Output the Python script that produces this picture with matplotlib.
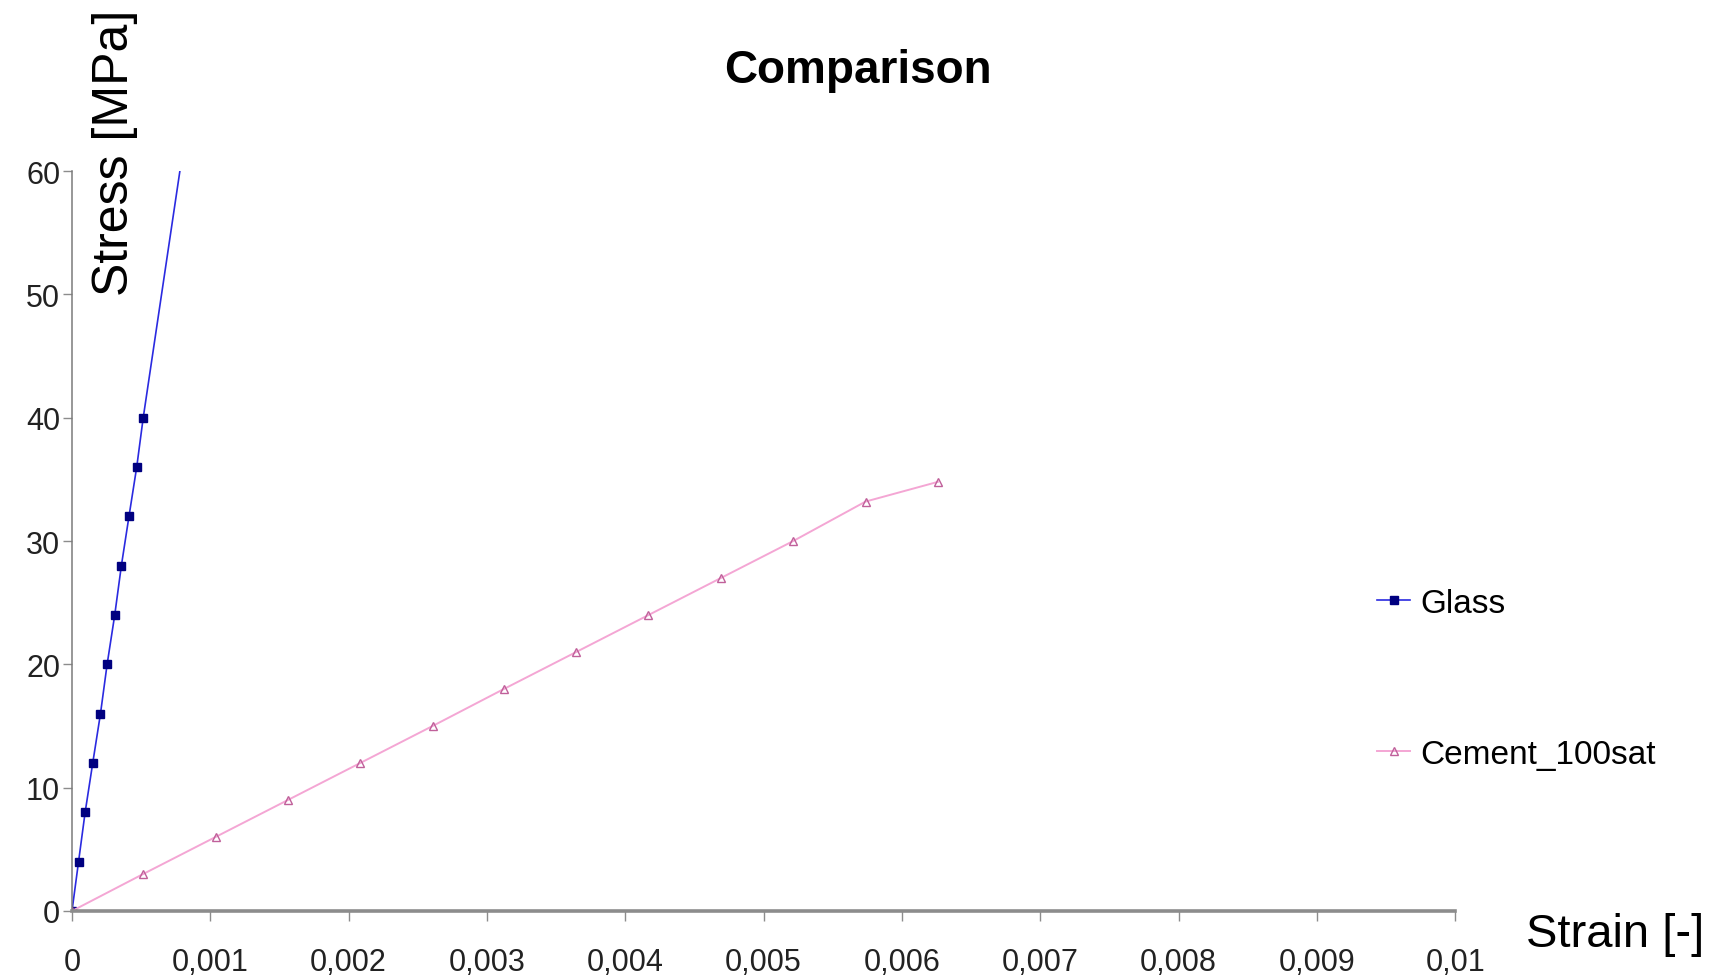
import matplotlib
matplotlib.use('Agg')
import matplotlib.pyplot as plt

# data
glass_strain = [0, 0.0000475, 0.000095, 0.00015, 0.000206, 0.000254, 0.000309,
                0.000357, 0.000412, 0.000468, 0.000515, 0.000784]
glass_stress = [0, 4, 8, 12, 16, 20, 24, 28, 32, 36, 40, 60.3]

cement_strain = [0, 0.000515, 0.001038, 0.001561, 0.002084, 0.002607, 0.003122,
                 0.003645, 0.004168, 0.004691, 0.005214, 0.005737, 0.00626]
cement_stress = [0, 3, 6, 9, 12, 15, 18, 21, 24, 27, 30, 33.2, 34.8]

x_ticks = [0, 0.001, 0.002, 0.003, 0.004, 0.005, 0.006, 0.007, 0.008, 0.009, 0.01]
x_tick_labels = ['0', '0,001', '0,002', '0,003', '0,004', '0,005', '0,006',
                 '0,007', '0,008', '0,009', '0,01']
y_ticks = [0, 10, 20, 30, 40, 50, 60]

plt.rcParams['font.family'] = ['Liberation Sans', 'DejaVu Sans']

fig = plt.figure(figsize=(17.18, 9.78), dpi=100)
ax = fig.add_axes([0.0419, 0.0675, 0.8051, 0.7565])

ax.plot(glass_strain, glass_stress, color='#2a2ae0', linewidth=1.2,
        marker='s', markersize=6, markerfacecolor='#000080', markeredgecolor='#000080',
        markevery=slice(0, 11), label='Glass')
ax.plot(cement_strain, cement_stress, color='#f4a6d4', linewidth=1.4,
        marker='^', markersize=6, markerfacecolor='none', markeredgecolor='#c0609a',
        label='Cement_100sat')

ax.set_xlim(0, 0.01)
ax.set_ylim(0, 60)
ax.set_xticks(x_ticks)
ax.set_xticklabels(x_tick_labels)
ax.set_yticks(y_ticks)

for s in ['top', 'right']:
    ax.spines[s].set_visible(False)
ax.spines['bottom'].set_color('#8c8c8c')
ax.spines['bottom'].set_linewidth(2.6)
ax.spines['left'].set_color('#7a7a7a')
ax.spines['left'].set_linewidth(1.1)

ax.tick_params(axis='x', length=7, width=1, color='#8c8c8c', pad=19,
               labelsize=22, labelcolor='#222222')
ax.tick_params(axis='y', length=6.5, width=1, color='#8c8c8c', pad=2,
               labelsize=22, labelcolor='#222222')

fig.text(0.4994, 0.927, 'Comparison', ha='center', va='center',
         fontsize=33, fontweight='bold')
fig.text(0.0669, 0.8436, 'Stress [MPa]', ha='center', va='center',
         rotation=90, fontsize=36)
fig.text(0.940, 0.044, 'Strain [-]', ha='center', va='center', fontsize=34)

fig.legend(loc='center left', bbox_to_anchor=(0.784, 0.305), frameon=False,
           fontsize=24, labelspacing=3.6, handlelength=1.0, handletextpad=0.3,
           markerscale=0.9)

fig.savefig('out.png', dpi=100)
